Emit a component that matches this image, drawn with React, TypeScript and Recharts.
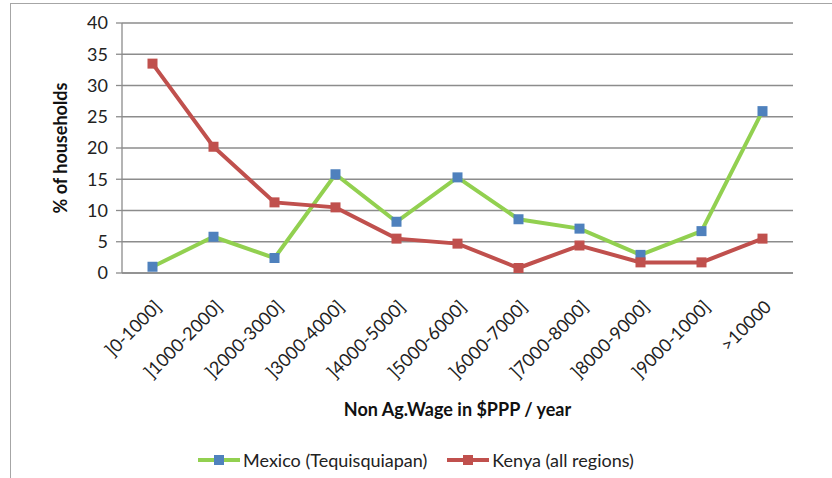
import React from 'react';
import { LineChart, Line, XAxis, YAxis, CartesianGrid, Legend, Label } from 'recharts';

const categories = [
  ']0-1000]',
  ']1000-2000]',
  ']2000-3000]',
  ']3000-4000]',
  ']4000-5000]',
  ']5000-6000]',
  ']6000-7000]',
  ']7000-8000]',
  ']8000-9000]',
  ']9000-1000]',
  '>10000',
];
const mexico = [1.0, 5.8, 2.4, 15.8, 8.2, 15.3, 8.6, 7.1, 2.9, 6.7, 25.9];
const kenya = [33.5, 20.2, 11.3, 10.5, 5.5, 4.7, 0.8, 4.4, 1.7, 1.7, 5.5];
const yTicks = [0, 5, 10, 15, 20, 25, 30, 35, 40];

const seriesInfo = [
  { key: 'mexico', name: 'Mexico (Tequisquiapan)', line: '#92d050', marker: '#4f81bd' },
  { key: 'kenya', name: 'Kenya (all regions)', line: '#c0504d', marker: '#c0504d' },
];

const boundaryTicks = categories.map((_, i) => i).concat(categories.length);
const centerTicks = categories.map((_, i) => i + 0.5);
const data = categories.map((c, i) => ({ x: i + 0.5, mexico: mexico[i], kenya: kenya[i] }));

const FONT = 'Lato, "Open Sans", sans-serif';
const GRID = '#8c8c8c';

const squareDot = (color: string) => (props: any) => {
  const { cx, cy, index } = props;
  if (cx == null || cy == null) return <g key={index} />;
  return <rect key={index} x={cx - 5} y={cy - 5} width={10} height={10} fill={color} />;
};

const CategoryTick = (props: any) => {
  const { x, y, payload } = props;
  const i = Math.floor(payload.value);
  return (
    <g transform={`translate(${x + 10},${y + 21}) rotate(-45)`}>
      <text x={0} y={0} textAnchor="end" fontSize={18} fill="#222" fontFamily={FONT}>
        {categories[i]}
      </text>
    </g>
  );
};

const LegendContent = () => (
  <div style={{ display: 'flex', justifyContent: 'center', gap: 20, fontFamily: FONT, fontSize: 18, color: '#222' }}>
    {seriesInfo.map((s) => (
      <div key={s.key} style={{ display: 'flex', alignItems: 'center' }}>
        <svg width={42} height={14}>
          <line x1={0} y1={7} x2={42} y2={7} stroke={s.line} strokeWidth={4} />
          <rect x={16} y={2} width={10} height={10} fill={s.marker} />
        </svg>
        <span style={{ marginLeft: 3 }}>{s.name}</span>
      </div>
    ))}
  </div>
);

export default function App() {
  return (
    <div style={{ position: 'absolute', left: 0, top: 0, width: 832, height: 478, background: '#fff' }}>
      <div
        style={{
          position: 'absolute',
          left: 10,
          top: 3,
          width: 830,
          height: 480,
          borderTop: '1.5px solid #a6a6a6',
          borderLeft: '1.5px solid #a6a6a6',
        }}
      />
      <LineChart width={832} height={478} data={data} margin={{ top: 23, right: 39, left: 0, bottom: 54 }}>
        <CartesianGrid horizontal vertical={false} stroke={GRID} strokeWidth={1.3} xAxisId="b" />
        <XAxis
          xAxisId="b"
          type="number"
          dataKey="x"
          domain={[0, categories.length]}
          ticks={boundaryTicks}
          tick={false}
          tickSize={6}
          height={6}
          stroke={GRID}
          strokeWidth={1.3}
        />
        <XAxis
          xAxisId="c"
          type="number"
          dataKey="x"
          domain={[0, categories.length]}
          ticks={centerTicks}
          tick={<CategoryTick />}
          tickLine={false}
          axisLine={false}
          height={145}
          interval={0}
        >
          <Label
            value="Non Ag.Wage in $PPP / year"
            position="insideBottom"
            offset={8}
            style={{ fontFamily: FONT, fontSize: 18, fontWeight: 700, fill: '#111' }}
          />
        </XAxis>
        <YAxis
          type="number"
          domain={[0, 40]}
          ticks={yTicks}
          interval={0}
          width={122}
          tickSize={6}
          tickMargin={8}
          stroke={GRID}
          strokeWidth={1.3}
          tick={{ fill: '#222', fontSize: 18, fontFamily: FONT }}
        >
          <Label
            value="% of households"
            angle={-90}
            position="center"
            style={{ fontFamily: FONT, fontSize: 18, fontWeight: 700, fill: '#111', textAnchor: 'middle' }}
          />
        </YAxis>
        <Legend
          layout="horizontal"
          verticalAlign="middle"
          align="center"
          content={<LegendContent />}
          wrapperStyle={{ top: 449, left: 0, width: 832 }}
        />
        {seriesInfo.map((s) => (
          <Line
            key={s.key}
            xAxisId="b"
            type="linear"
            dataKey={s.key}
            name={s.name}
            stroke={s.line}
            strokeWidth={4}
            dot={squareDot(s.marker)}
            activeDot={false}
            isAnimationActive={false}
          />
        ))}
      </LineChart>
    </div>
  );
}
